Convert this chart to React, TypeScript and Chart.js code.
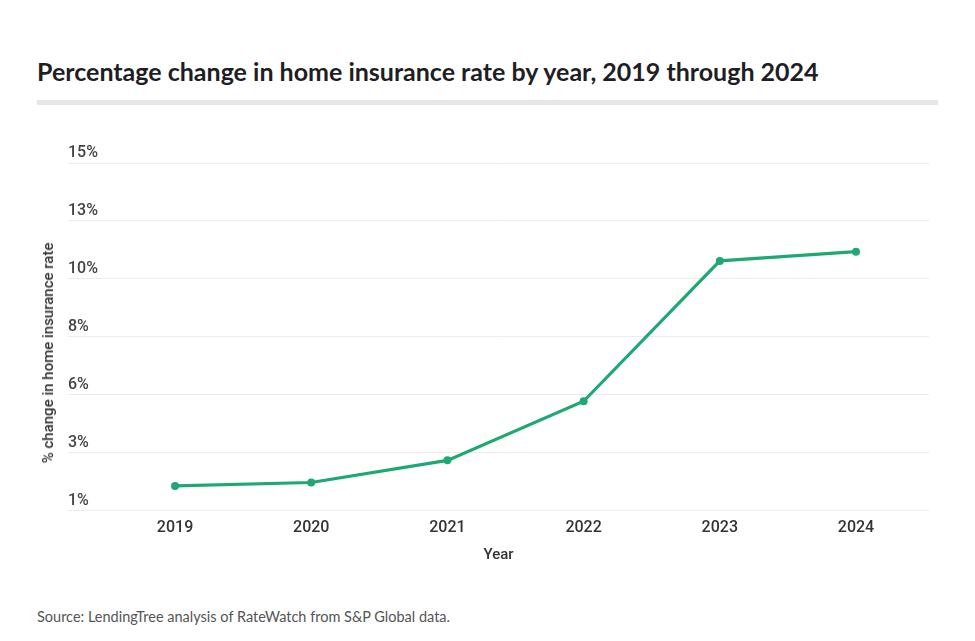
import React, { useEffect, useRef } from "react";
import { Chart, registerables } from "chart.js";

Chart.register(...registerables);

const years = [2019, 2020, 2021, 2022, 2023, 2024];
const rateChange = [2.0, 2.14, 3.03, 5.41, 11.06, 11.43];

const titleText = "Percentage change in home insurance rate by year, 2019 through 2024";
const sourceText = "Source: LendingTree analysis of RateWatch from S&P Global data.";
const yAxisTitle = "% change in home insurance rate";
const xAxisTitle = "Year";

export default function App() {
  const canvasRef = useRef<HTMLCanvasElement | null>(null);

  useEffect(() => {
    document.body.style.margin = "0";
    const ctx = canvasRef.current;
    if (!ctx) return;
    const chart = new Chart(ctx, {
      type: "line",
      data: {
        datasets: [
          {
            data: years.map((y, i) => ({ x: y, y: rateChange[i] })),
            borderColor: "#1fa874",
            backgroundColor: "#1fa874",
            borderWidth: 3.2,
            pointRadius: 4,
            pointBackgroundColor: "#1fa874",
            pointBorderColor: "#1fa874",
            pointBorderWidth: 0,
            tension: 0,
          },
        ],
      },
      options: {
        animation: false,
        responsive: false,
        maintainAspectRatio: false,
        layout: { padding: { top: 33, right: 46, left: 68, bottom: 6 } },
        plugins: { legend: { display: false }, tooltip: { enabled: false } },
        scales: {
          x: {
            type: "linear",
            min: 2018.214,
            max: 2024.536,
            afterBuildTicks: (axis: any) => {
              axis.ticks = years.map((v) => ({ value: v }));
            },
            grid: { display: false, drawTicks: false },
            border: { display: false },
            ticks: {
              callback: (v: any) => String(v),
              font: { family: "Roboto", size: 16, weight: 500 },
              color: "#333",
              padding: 8,
              autoSkip: false,
              maxRotation: 0,
            },
            title: {
              display: true,
              text: xAxisTitle,
              font: { family: "Roboto", size: 15, weight: 500 },
              color: "#333",
              padding: { top: 0, bottom: 0 },
            },
          },
          y: {
            min: 1,
            max: 15,
            grid: { color: "#ececec", drawTicks: false, lineWidth: 1 },
            border: { display: false },
            ticks: {
              count: 7,
              mirror: true,
              padding: 0,
              labelOffset: -10,
              callback: (v: any) => Math.round(Number(v)) + "%",
              font: { family: "Roboto", size: 16, weight: 500 },
              color: "#444",
            },
          },
        },
      },
    });
    return () => chart.destroy();
  }, []);

  return (
    <div
      style={{
        position: "absolute",
        left: 0,
        top: 0,
        width: 975,
        height: 641,
        background: "#fff",
        overflow: "hidden",
      }}
    >
      <div
        style={{
          position: "absolute",
          left: 37,
          top: 56,
          fontFamily: "Lato",
          fontWeight: 700,
          fontSize: 25,
          color: "#1e1e24",
          whiteSpace: "nowrap",
          lineHeight: "30px",
        }}
      >
        {titleText}
      </div>
      <div
        style={{
          position: "absolute",
          left: 37,
          top: 100,
          width: 901,
          height: 5,
          background: "#e6e6e6",
        }}
      />
      <canvas
        ref={canvasRef}
        width={975}
        height={440}
        style={{ position: "absolute", left: 0, top: 130, width: 975, height: 440 }}
      />
      <div
        style={{
          position: "absolute",
          left: 48,
          top: 353,
          width: 0,
          height: 0,
        }}
      >
        <div
          style={{
            position: "absolute",
            left: 0,
            top: 0,
            transform: "translate(-50%, -50%) rotate(-90deg)",
            fontFamily: "Roboto",
            fontSize: 15,
            fontWeight: 500,
            color: "#333",
            whiteSpace: "nowrap",
            lineHeight: "18px",
          }}
        >
          {yAxisTitle}
        </div>
      </div>
      <div
        style={{
          position: "absolute",
          left: 37,
          top: 608,
          fontFamily: "Lato",
          fontSize: 14.5,
          color: "#555",
          whiteSpace: "nowrap",
          lineHeight: "18px",
        }}
      >
        {sourceText}
      </div>
    </div>
  );
}
